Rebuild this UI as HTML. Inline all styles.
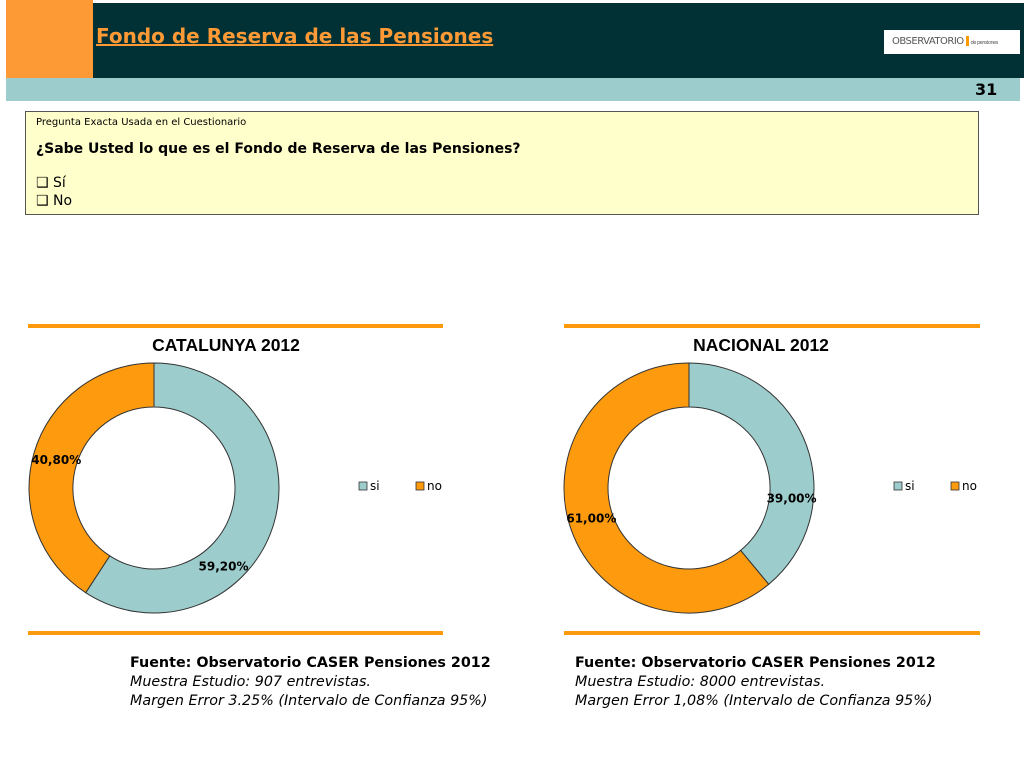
<!DOCTYPE html>
<html><head><meta charset="utf-8"><style>
body{margin:0;width:1024px;height:768px;background:#fff;position:relative;overflow:hidden;font-family:"DejaVu Sans","Liberation Sans",sans-serif;}
.abs{position:absolute;}
</style></head><body>
<div class="abs" style="left:6px;top:3px;width:1018px;height:75px;background:#013134"></div>
<div class="abs" style="left:6px;top:0;width:87px;height:78px;background:#fd9a36"></div>
<div class="abs" style="left:96px;top:24px;font-size:20px;font-weight:bold;color:#fd9a36;text-decoration:underline;text-decoration-color:#fd9a36;">Fondo de Reserva de las Pensiones</div>
<div class="abs" style="left:884px;top:30px;width:136px;height:24px;background:#fff;font-size:10px;color:#555;line-height:24px;padding-left:8px;box-sizing:border-box;letter-spacing:-0.5px">OBSERVATORIO<span style="display:inline-block;width:3px;height:10px;background:#f90;margin:0 2px;vertical-align:middle"></span><span style="font-size:5px">de pensiones</span></div>
<div class="abs" style="left:6px;top:78px;width:1014px;height:23px;background:#9ccccb"></div>
<div class="abs" style="left:975px;top:80px;font-size:16px;font-weight:bold;color:#000">31</div>
<div class="abs" style="left:25px;top:111px;width:952px;height:102px;background:#ffffcc;border:1px solid #555;font-size:10px">
<div style="position:absolute;left:10px;top:5px;font-size:10px">Pregunta Exacta Usada en el Cuestionario</div>
<div style="position:absolute;left:10px;top:29px;font-size:14px;font-weight:bold">¿Sabe Usted lo que es el Fondo de Reserva de las Pensiones?</div>
<div style="position:absolute;left:10px;top:62px;font-size:14px;line-height:18px">❑ Sí<br>❑ No</div>
</div>
<svg class="abs" style="left:0;top:0" width="1024" height="768">
<rect x="28" y="324" width="415" height="4" fill="#fd9a0e"/><rect x="28" y="631" width="415" height="4" fill="#fd9a0e"/>
<rect x="564" y="324" width="416" height="4" fill="#fd9a0e"/><rect x="564" y="631" width="416" height="4" fill="#fd9a0e"/>
<g id="g1"></g><g id="g2"></g>
</svg>
<div class="abs" style="left:130px;top:654px;font-size:14.3px;line-height:19px"><b>Fuente: Observatorio CASER Pensiones 2012</b><br><i>Muestra Estudio: 907 entrevistas.</i><br><i>Margen Error 3.25% (Intervalo de Confianza 95%)</i></div>
<div class="abs" style="left:575px;top:654px;font-size:14.3px;line-height:19px"><b>Fuente: Observatorio CASER Pensiones 2012</b><br><i>Muestra Estudio: 8000 entrevistas.</i><br><i>Margen Error 1,08% (Intervalo de Confianza 95%)</i></div>
<script>
const categories=["si","no"];
const catValues=[59.2,40.8];
const nacValues=[39.0,61.0];
const valueLabels1=["59,20%","40,80%"];
const valueLabels2=["39,00%","61,00%"];
const colors=["#9ccccb","#fd9a0e"];
const NS="http://www.w3.org/2000/svg";
function mk(t,a){const e=document.createElementNS(NS,t);for(const k in a)e.setAttribute(k,a[k]);return e;}
function donut(gid,cx,cy,vals,labels,title,lx,labelPos){
 const g=document.getElementById(gid);
 const R=125,r=81,tot=vals.reduce((a,b)=>a+b,0);let a0=0;
 const t=mk("text",{x:cx+72,y:351,"text-anchor":"middle","font-size":"17.5","font-weight":"bold","font-family":"Liberation Sans, sans-serif"});t.textContent=title;
 
 
 g.appendChild(t);
 vals.forEach((v,i)=>{
  const a1=a0+v/tot*2*Math.PI;
  const p=(ang,rad)=>[cx+rad*Math.sin(ang),cy-rad*Math.cos(ang)];
  const big=(a1-a0)>Math.PI?1:0;
  const [x1,y1]=p(a0,R),[x2,y2]=p(a1,R),[x3,y3]=p(a1,r),[x4,y4]=p(a0,r);
  const path=mk("path",{d:`M${x1},${y1}A${R},${R} 0 ${big} 1 ${x2},${y2}L${x3},${y3}A${r},${r} 0 ${big} 0 ${x4},${y4}Z`,fill:colors[i],stroke:"#333","stroke-width":"1"});
  
  
  g.appendChild(path);
  const mid=(a0+a1)/2+labelPos[i][1]*Math.PI/180;
  const [tx,ty]=p(mid,labelPos[i][0]);
  const lab=mk("text",{x:tx,y:ty+5,"text-anchor":"middle","font-size":"12","font-weight":"bold"});lab.textContent=labels[i];
  
  
  g.appendChild(lab);
  a0=a1;
 });
 categories.forEach((c,i)=>{
  const x=lx+i*57;
  const s=mk("rect",{x:x,y:482,width:8,height:8,fill:colors[i],stroke:"#333","stroke-width":"0.8"});
  
  
  g.appendChild(s);
  const lt=mk("text",{x:x+11,y:490,"font-size":"12"});lt.textContent=c;
  
  
  g.appendChild(lt);
 });
}
donut("g1",154,488,catValues,valueLabels1,"CATALUNYA 2012",359,[[104,31.5],[102,0]]);
donut("g2",689,488,nacValues,valueLabels2,"NACIONAL 2012",894,[[103,25],[102,3]]);
</script>
</body></html>
